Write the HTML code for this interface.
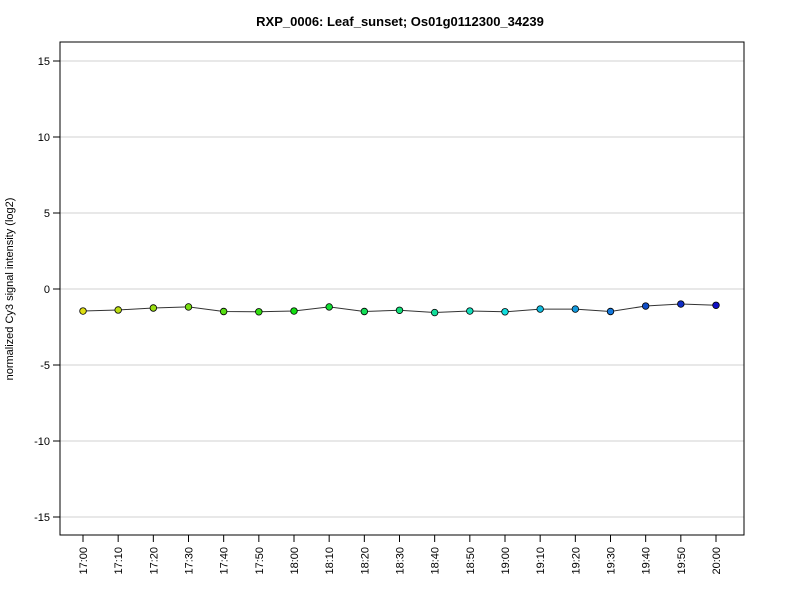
<!DOCTYPE html>
<html><head><meta charset="utf-8"><style>
body{margin:0;background:#fff;font-family:"Liberation Sans",Arial,sans-serif}
</style></head><body>
<svg width="800" height="600" xmlns="http://www.w3.org/2000/svg" id="chart">
<text x="400" y="26" text-anchor="middle" font-size="13" font-weight="bold">RXP_0006: Leaf_sunset; Os01g0112300_34239</text>
<text transform="translate(13,289) rotate(-90)" text-anchor="middle" font-size="11">normalized Cy3 signal intensity (log2)</text>
<g id="grid"></g>
<g id="yaxis"></g>
<g id="xaxis"></g>
<g id="series"></g>
<rect x="60" y="42" width="684" height="493" fill="none" stroke="#000"/>
</svg>
<script>
const categories=["17:00","17:10","17:20","17:30","17:40","17:50","18:00","18:10","18:20","18:30","18:40","18:50","19:00","19:10","19:20","19:30","19:40","19:50","20:00"];
const values=[-1.45,-1.38,-1.25,-1.18,-1.48,-1.5,-1.45,-1.18,-1.48,-1.4,-1.55,-1.45,-1.5,-1.32,-1.32,-1.48,-1.12,-0.99,-1.07];
const yTicks=[-15,-10,-5,0,5,10,15];
const NS="http://www.w3.org/2000/svg";
const y=v=>289-v*15.2;
const x=i=>83+i*(716-83)/(categories.length-1);
function mk(t,a,p){const e=document.createElementNS(NS,t);for(const k in a)e.setAttribute(k,a[k]);p.appendChild(e);return e;}
const grid=document.getElementById('grid'),ya=document.getElementById('yaxis'),xa=document.getElementById('xaxis'),se=document.getElementById('series');
yTicks.forEach(t=>{
 const g=mk('line',{x1:60,x2:744,y1:y(t),y2:y(t),stroke:'#d0d0d0'},grid);
 
 
 mk('line',{x1:53,x2:60,y1:y(t),y2:y(t),stroke:'#000'},ya);
 const l=mk('text',{x:50,y:y(t)+4,'text-anchor':'end','font-size':11},ya);
 l.textContent=t;
 
 
});
categories.forEach((c,i)=>{
 mk('line',{x1:x(i),x2:x(i),y1:535,y2:542,stroke:'#000'},xa);
 const l=mk('text',{transform:`translate(${x(i)+4},547) rotate(-90)`,'text-anchor':'end','font-size':11},xa);
 l.textContent=c;
 
 
});
const pl=mk('polyline',{points:values.map((v,i)=>x(i)+','+y(v)).join(' '),fill:'none',stroke:'#333','stroke-width':1},se);


values.forEach((v,i)=>{
 const h=60+180*i/(values.length-1);
 const c=mk('circle',{cx:x(i),cy:y(v),r:3.3,fill:`hsl(${h},85%,${i>15?42:47}%)`,stroke:'#000','stroke-width':0.8},se);
 
 
});
</script>
</body></html>
